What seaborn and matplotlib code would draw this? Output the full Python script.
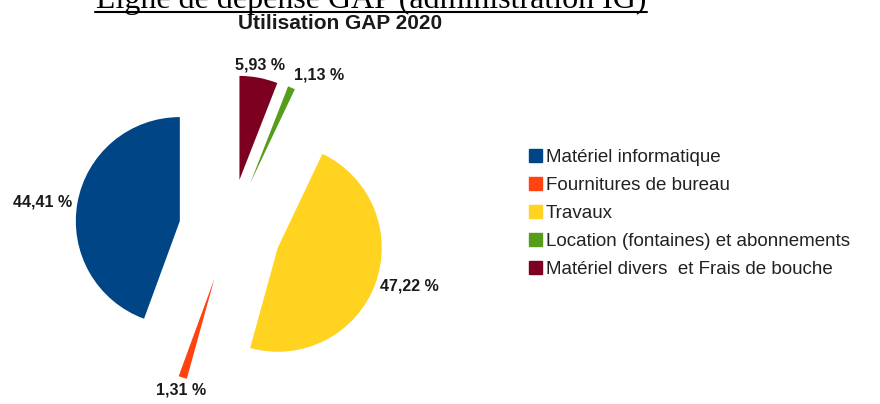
"""
Utilisation GAP 2020 - exploded pie with side legend
"""
import numpy as np
import matplotlib
matplotlib.use("Agg")
import matplotlib.pyplot as plt
from matplotlib.lines import Line2D
import seaborn as sns

sns.set_theme(style="white")
plt.rcParams["font.family"] = ["Liberation Sans", "DejaVu Sans"]

categories = [
    "Matériel informatique",
    "Fournitures de bureau",
    "Travaux",
    "Location (fontaines) et abonnements",
    "Matériel divers  et Frais de bouche",
]
shares = [44.41, 1.31, 47.22, 1.13, 5.93]
pct_labels = ["44,41 %", "1,31 %", "47,22 %", "1,13 %", "5,93 %"]
colors = sns.color_palette(["#004586", "#ff420e", "#ffd320", "#579d1c", "#7e0021"])

W, H = 880, 404
fig = plt.figure(figsize=(W / 100, H / 100), dpi=100)

# pie axes: centre at (230, 230) px, radius 104 px
cx, cy, R = 230, 230, 104
ax_w, ax_h = 460, 404
ax = fig.add_axes([0, 0, ax_w / W, ax_h / H])
wedges, texts = ax.pie(
    shares, colors=colors, labels=pct_labels, startangle=90,
    counterclock=True, explode=[0.49] * len(shares), labeldistance=1.05,
    wedgeprops=dict(linewidth=0),
    textprops=dict(fontsize=11.5, fontweight="bold", color="#1a1a1a"),
)
for w, t in zip(wedges, texts):
    mid = np.deg2rad((w.theta1 + w.theta2) / 2)
    c, s = np.cos(mid), np.sin(mid)
    t.set_ha("left" if c > 0.35 else ("right" if c < -0.35 else "center"))
    t.set_va("bottom" if s > 0.7 else ("top" if s < -0.7 else "center"))
    t.set_clip_on(False)
ax.set_xlim(-cx / R, (ax_w - cx) / R)
ax.set_ylim(-(ax_h - cy) / R, cy / R)
ax.set_aspect("equal")
ax.axis("off")

# legend
handles = [plt.Rectangle((0, 0), 1, 1, color=col) for col in colors]
fig.legend(handles, categories, loc="upper left",
           bbox_to_anchor=(529 / W, 1 - 149 / H), frameon=False,
           fontsize=13.5, handlelength=0.7, handleheight=0.7,
           handletextpad=0.2, labelspacing=0.58, borderaxespad=0,
           borderpad=0, labelcolor="#222222")

# titles
fig.text(340 / W, 1 - 29 / H, "Utilisation GAP 2020", ha="center",
         va="baseline", fontsize=15, fontweight="bold", color="#1a1a1a")
fig.text(371 / W, 1 - 8 / H, "Ligne de dépense GAP (administration IG)",
         ha="center", va="baseline", fontsize=23, color="black",
         family=["Liberation Serif", "DejaVu Serif"])
fig.add_artist(Line2D([95 / W, 647 / W], [1 - 12 / H, 1 - 12 / H],
                      transform=fig.transFigure, color="black", linewidth=1.5))

fig.savefig("out.png", dpi=100)
